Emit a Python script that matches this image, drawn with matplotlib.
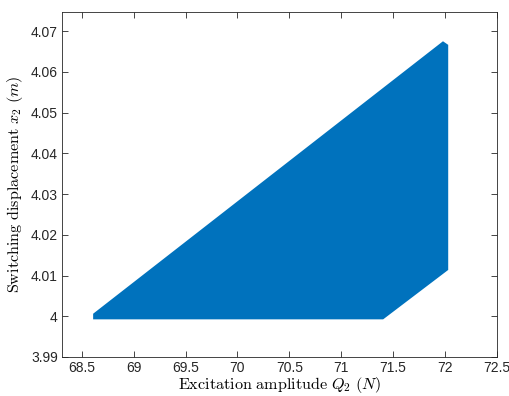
import matplotlib
matplotlib.use("Agg")
import matplotlib.pyplot as plt

plt.rcParams['mathtext.fontset'] = 'cm'
plt.rcParams['font.family'] = ['Liberation Sans', 'DejaVu Sans']

# outline of the swept region (excitation amplitude Q2, switching displacement x2)
q2 = [68.62, 71.40, 72.02, 72.02, 71.98, 68.62]
x2 = [3.9995, 3.9995, 4.0115, 4.0665, 4.0672, 4.0005]

xticks = [68.5, 69, 69.5, 70, 70.5, 71, 71.5, 72, 72.5]
yticks = [3.99, 4.0, 4.01, 4.02, 4.03, 4.04, 4.05, 4.06, 4.07]
yticklabels = ['3.99', '4', '4.01', '4.02', '4.03', '4.04', '4.05', '4.06', '4.07']

fig = plt.figure(figsize=(5.09, 3.96), dpi=100)
ax = fig.add_axes([62/509, 1 - 357/396, (497-62)/509, (357-12)/396])

ax.fill(q2, x2, color='#0072BD', edgecolor='#0072BD', linewidth=1.5)

ax.set_xlim(68.31, 72.5)
ax.set_ylim(3.99, 4.0747)
ax.set_xticks(xticks)
ax.set_xticklabels([str(t) for t in xticks])
ax.set_yticks(yticks)
ax.set_yticklabels(yticklabels)

ax.tick_params(direction='in', top=True, right=True, length=4, width=0.6,
               colors='#262626', labelsize=10, pad=3)
for s in ax.spines.values():
    s.set_color('#262626')
    s.set_linewidth(0.6)

ax.set_xlabel(r'$\mathrm{Excitation\ amplitude}\ Q_2\ (N)$', fontsize=11.6, labelpad=0)
ax.set_ylabel(r'$\mathrm{Switching\ displacement}\ x_2\ (m)$', fontsize=11.6, labelpad=4)

fig.savefig('out.png', dpi=100)
